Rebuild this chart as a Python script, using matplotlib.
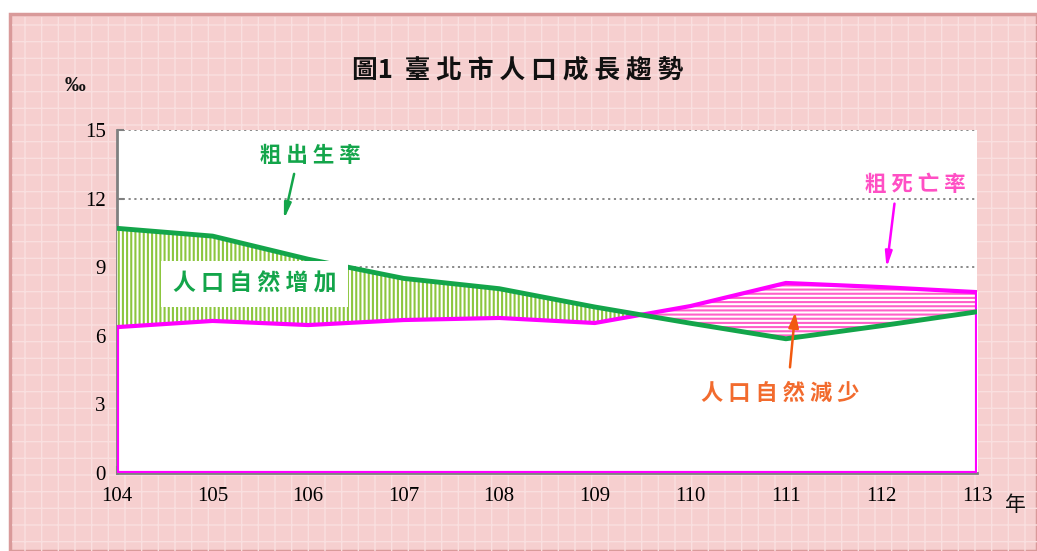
import matplotlib.pyplot as plt
import numpy as np
from matplotlib.patches import Rectangle

plt.rcParams["font.family"] = ["Noto Sans CJK TC", "DejaVu Sans"]

years = [104, 105, 106, 107, 108, 109, 110, 111, 112, 113]
birth = [10.70, 10.36, 9.35, 8.51, 8.06, 7.26, 6.55, 5.87, 6.44, 7.05]
death = [6.38, 6.65, 6.47, 6.69, 6.78, 6.56, 7.30, 8.31, 8.13, 7.91]
yticks = [0, 3, 6, 9, 12, 15]

GREEN, MAGENTA, HATCH_G, HATCH_P = "#13a54a", "#ff00ff", "#8cc63e", "#ff5fc8"
GRAY = "#808080"
SERIF = ["Liberation Serif", "DejaVu Serif"]

W, H = 1037, 551
fig = plt.figure(figsize=(W / 100, H / 100), dpi=100)
fig.patch.set_facecolor("white")

# pink lattice frame
fig.add_artist(Rectangle((10 / W, 0), 1 - 10 / W, 1 - 14 / H, transform=fig.transFigure,
                         facecolor="#f6cfcf", edgecolor="#d99a9a", lw=2.5, zorder=0))
fig.add_artist(Rectangle((12 / W, 0), 1 - 12 / W, 1 - 17 / H, transform=fig.transFigure,
                         facecolor="none", edgecolor="#f9dfdf", hatch="+", lw=0, zorder=0))

ax = fig.add_axes([117 / W, 1 - 473 / H, 860 / W, 343 / H])
ax.set_facecolor("white")
x = np.array(years)
b = np.array(birth)
d = np.array(death)

for yv in [9, 12, 15]:
    ax.axhline(yv, color=GRAY, ls=(0, (1.2, 2)), lw=1.3, zorder=1)

plt.rcParams["hatch.linewidth"] = 1.5
ax.fill_between(x, d, 0, color="white", zorder=2)
ax.fill_between(x, b, d, where=b >= d, interpolate=True, facecolor="white",
                edgecolor=HATCH_G, hatch="||||", lw=0, zorder=3)
ax.fill_between(x, b, d, where=b <= d, interpolate=True, facecolor="white",
                edgecolor=HATCH_P, hatch="----", lw=0, zorder=3)

# death rate drawn as outlined area
ax.plot(np.r_[x[0], x, x[-1]], np.r_[0, d, 0], color=MAGENTA, lw=3, zorder=5,
        solid_joinstyle="miter")
ax.plot([x[0], x[-1]], [0, 0], color=MAGENTA, lw=3, zorder=5)
ax.plot(x, b, color=GREEN, lw=3.5, zorder=6)

ax.set_xlim(104, 113)
ax.set_ylim(0, 15)
ax.set_xticks(years)
ax.set_yticks(yticks)
ax.tick_params(direction="in", color=GRAY, length=5, width=1.5, labelsize=15, pad=8)
ax.tick_params(axis="x", pad=10)
for lab in ax.get_xticklabels() + ax.get_yticklabels():
    lab.set_family(SERIF)
for s in ["top", "right"]:
    ax.spines[s].set_visible(False)
for s in ["left", "bottom"]:
    ax.spines[s].set_color(GRAY)
    ax.spines[s].set_linewidth(2)

# labels and arrows
ax.text(105.44, 8.26, "人 口 自 然 增 加", color=GREEN, fontsize=16.5, fontweight="bold",
        ha="center", va="center", zorder=8,
        bbox=dict(boxstyle="square,pad=0.5", facecolor="white", edgecolor="none"))
ax.text(106.02, 13.9, "粗 出 生 率", color=GREEN, fontsize=15.5, fontweight="bold",
        ha="center", va="center", zorder=8)
ax.annotate("", xy=(105.74, 10.97), xytext=(105.86, 13.2), zorder=8,
            arrowprops=dict(arrowstyle="-|>,head_length=0.9,head_width=0.2", color=GREEN, lw=1.8))
ax.text(112.35, 12.6, "粗 死 亡 率", color="#ff4fc4", fontsize=15.5, fontweight="bold",
        ha="center", va="center", zorder=8)
ax.annotate("", xy=(112.05, 8.85), xytext=(112.14, 11.9), zorder=8,
            arrowprops=dict(arrowstyle="-|>,head_length=0.9,head_width=0.2", color=MAGENTA, lw=1.8))
ax.text(110.94, 3.5, "人 口 自 然 減 少", color="#f26b2e", fontsize=16, fontweight="bold",
        ha="center", va="center", zorder=8)
ax.annotate("", xy=(111.1, 7.15), xytext=(111.04, 4.5), zorder=8,
            arrowprops=dict(arrowstyle="-|>,head_length=0.9,head_width=0.3", color="#f25a10", lw=1.8))

fig.text(518 / W, 1 - 70 / H, "圖1  臺 北 市 人 口 成 長 趨 勢", fontsize=18.5, fontweight="bold",
         ha="center", va="center", color="#111111")
fig.text(75 / W, 1 - 86 / H, "‰", fontsize=15, fontweight="bold", ha="center", va="center",
         family=SERIF, color="#111111")
fig.text(1015 / W, 1 - 505 / H, "年", fontsize=15, ha="center", va="center", color="#111111")

fig.savefig("out.png", dpi=100)
